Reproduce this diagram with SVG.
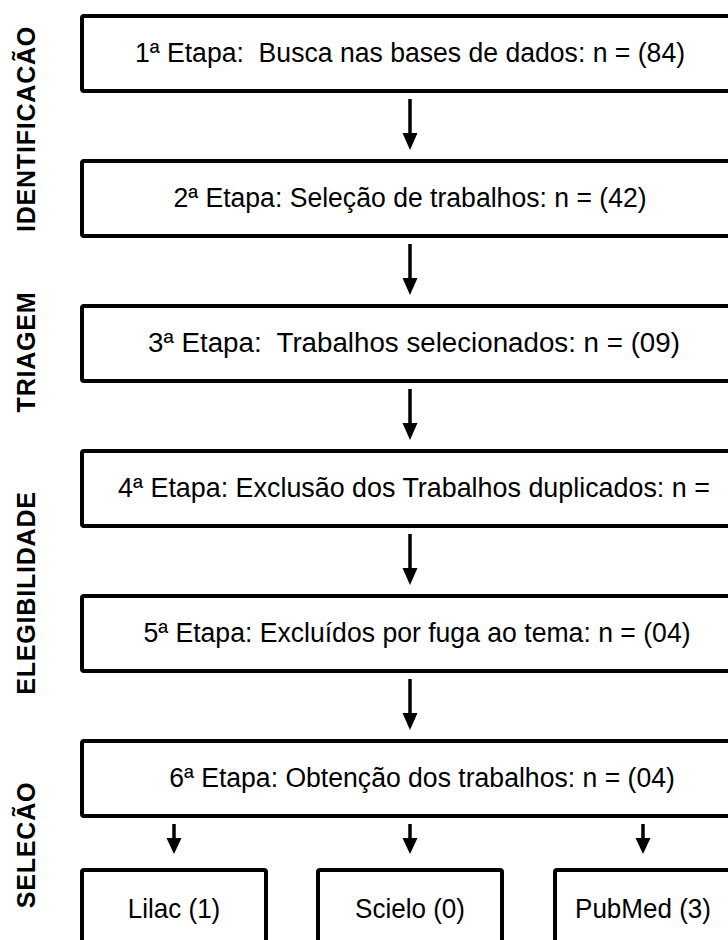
<svg xmlns="http://www.w3.org/2000/svg" width="728" height="940" viewBox="0 0 728 940">
<style>
.box{fill:#fff;stroke:#000;stroke-width:4;stroke-linejoin:round}
.t{font-family:"Liberation Sans",Arial,sans-serif;font-size:28px;fill:#000;text-anchor:middle;white-space:pre}
.lab{font-family:"Liberation Sans",Arial,sans-serif;font-size:25px;font-weight:bold;fill:#000;text-anchor:middle;letter-spacing:0.8px}
.sh{stroke:#000;stroke-width:3.5;fill:none}
.hd{fill:#000}
</style>
<rect width="728" height="940" fill="#fff"/>
<g id="labels">
<text class="lab" transform="translate(35,129) rotate(-90)">IDENTIFICACÃO</text>
<text class="lab" transform="translate(35,352) rotate(-90)">TRIAGEM</text>
<text class="lab" transform="translate(35,593) rotate(-90)">ELEGIBILIDADE</text>
<text class="lab" transform="translate(35,845) rotate(-90)">SELECÃO</text>
</g>
<g id="n1"><rect class="box" x="82" y="16" width="680" height="75" rx="2"/><text class="t" xml:space="preserve" transform="translate(410,62) scale(0.95,1)">1ª Etapa:  Busca nas bases de dados: n = (84)</text></g>
<g id="n2"><rect class="box" x="82" y="161" width="680" height="75" rx="2"/><text class="t" transform="translate(410,207) scale(0.95,1)">2ª Etapa: Seleção de trabalhos: n = (42)</text></g>
<g id="n3"><rect class="box" x="82" y="306" width="680" height="75" rx="2"/><text class="t" xml:space="preserve" transform="translate(414,352) scale(0.99,1)">3ª Etapa:  Trabalhos selecionados: n = (09)</text></g>
<g id="n4"><rect class="box" x="82" y="451" width="680" height="75" rx="2"/><text class="t" transform="translate(414,497) scale(0.96,1)">4ª Etapa: Exclusão dos Trabalhos duplicados: n =</text></g>
<g id="n5"><rect class="box" x="82" y="596" width="680" height="75" rx="2"/><text class="t" transform="translate(417,642) scale(0.95,1)">5ª Etapa: Excluídos por fuga ao tema: n = (04)</text></g>
<g id="n6"><rect class="box" x="82" y="741" width="680" height="75" rx="2"/><text class="t" transform="translate(422,787) scale(0.95,1)">6ª Etapa: Obtenção dos trabalhos: n = (04)</text></g>
<g id="lilac"><rect class="box" x="82" y="870" width="184" height="100" rx="2"/><text class="t" transform="translate(174,918) scale(0.93,1)">Lilac (1)</text></g>
<g id="scielo"><rect class="box" x="318" y="870" width="184" height="100" rx="2"/><text class="t" transform="translate(410,918) scale(0.93,1)">Scielo (0)</text></g>
<g id="pubmed"><rect class="box" x="555" y="870" width="200" height="100" rx="2"/><text class="t" transform="translate(643,918) scale(0.93,1)">PubMed (3)</text></g>
<g id="connectors">
<path class="sh" d="M410 99V136M410 244V281M410 389V426M410 534V571M410 679V716"/>
<path class="hd" d="M402.5 133H417.5L410 150ZM402.5 278H417.5L410 295ZM402.5 423H417.5L410 440ZM402.5 568H417.5L410 585ZM402.5 713H417.5L410 730Z"/>
<path class="sh" d="M174 824V840M410 824V840M643 824V840"/>
<path class="hd" d="M166.5 838H181.5L174 854ZM402.5 838H417.5L410 854ZM635.5 838H650.5L643 854Z"/>
</g>
</svg>
